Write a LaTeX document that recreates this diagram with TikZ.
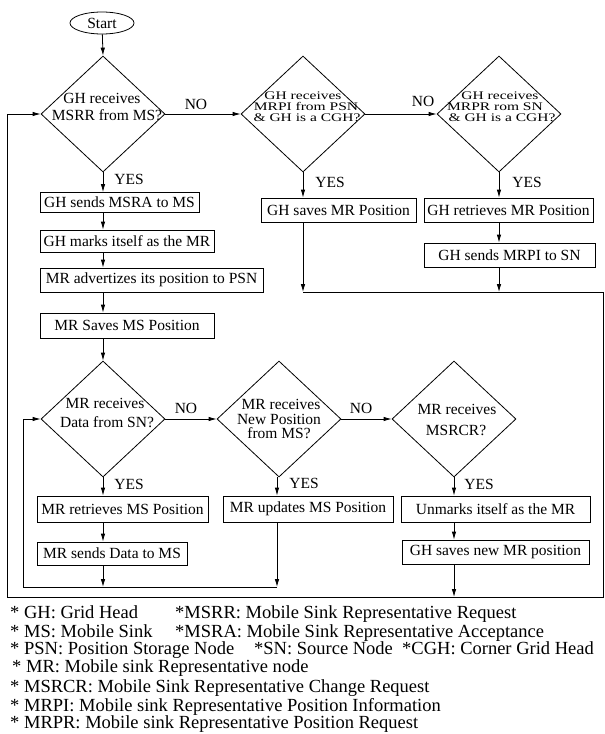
\documentclass[tikz,border=0pt]{standalone}
\usepackage{graphicx}
\usepackage{fontspec}
\setmainfont{Liberation Serif}
\usetikzlibrary{shapes.geometric,arrows.meta}
\newcommand\sqzline[1]{\scalebox{1}[0.75]{#1}}
\tikzset{
  line/.style={line width=0.8pt, black},
  arr/.style={line, -{Latex[length=8pt,width=4.5pt]}},
  box/.style={draw, line width=0.8pt, inner sep=0pt, font=\fontsize{15.5}{16}\selectfont},
  dia/.style={draw, diamond, line width=0.8pt, inner sep=0pt, minimum width=124pt, minimum height=116pt},
  dtext/.style={inner sep=0pt, font=\fontsize{15.5}{16}\selectfont},
  lab/.style={inner sep=0pt, font=\fontsize{15.5}{16}\selectfont},
  leg/.style={inner sep=0pt, anchor=base west, font=\fontsize{18.5}{19}\selectfont}
}
\begin{document}
\begin{tikzpicture}[x=1pt,y=-1pt]
\useasboundingbox (0,0) rectangle (605,734);

% start
\node[draw, ellipse, line width=0.8pt, inner sep=0pt, minimum width=64pt, minimum height=22pt, font=\fontsize{15.5}{16}\selectfont] (start) at (102,23) {Start};

% top row diamonds
\node[dia] (d1) at (103,114) {};
\node[dia] (d2) at (303,114) {};
\node[dia] (d3) at (499,114) {};
\node[dtext] (d1a) at (102,98) {GH receives};
\node[dtext] (d1b) at (107,115) {MSRR from MS?};
\node[dtext] (d2a) at (303,95.5) {\sqzline{GH receives}};
\node[dtext] (d2b) at (306,106.5) {\sqzline{MRPI from PSN}};
\node[dtext] (d2c) at (307,117.5) {\sqzline{\& GH is a CGH?}};
\node[dtext] (d3a) at (500,95.5) {\sqzline{GH receives}};
\node[dtext] (d3b) at (495,106.5) {\sqzline{MRPR rom SN}};
\node[dtext] (d3c) at (502,117.5) {\sqzline{\& GH is a CGH?}};

% left column boxes
\node[box, minimum width=159pt, minimum height=20pt] (b1) at (119.5,202.5) {GH sends MSRA to MS};
\node[box, minimum width=174pt, minimum height=22pt] (b2) at (127,241) {GH marks itself as the MR};
\node[box, minimum width=223pt, minimum height=24pt] (b3) at (151.5,280) {MR advertizes its position to PSN};
\node[box, minimum width=174pt, minimum height=25pt] (b4) at (127,325.5) {MR Saves MS Position};

% top right boxes
\node[box, minimum width=155pt, minimum height=24pt] (b5) at (338.5,210) {GH saves MR Position};
\node[box, minimum width=169pt, minimum height=24pt] (b6) at (508.5,210) {GH retrieves MR Position};
\node[box, minimum width=171pt, minimum height=24pt] (b7) at (509.5,255) {GH sends MRPI to SN};

% second row diamonds
\node[dia] (d4) at (103,419) {};
\node[dia] (d5) at (279,419) {};
\node[dia] (d6) at (454,419) {};
\node[dtext] (d4a) at (105,403) {MR receives};
\node[dtext] (d4b) at (107,422) {Data from SN?};
\node[dtext] (d5a) at (281,404) {MR receives};
\node[dtext] (d5b) at (279,419) {New Position};
\node[dtext] (d5c) at (279,433) {from MS?};
\node[dtext] (d6a) at (457,409) {MR receives};
\node[dtext] (d6b) at (456,430) {MSRCR?};

% bottom boxes
\node[box, minimum width=171pt, minimum height=26pt] (b8) at (122.5,509) {MR retrieves MS Position};
\node[box, minimum width=150pt, minimum height=23pt] (b9) at (112,553.5) {MR sends Data to MS};
\node[box, minimum width=170pt, minimum height=26pt] (b10) at (308,509) {MR updates MS Position};
\node[box, minimum width=189pt, minimum height=26pt] (b11) at (495.5,509) {Unmarks itself as the MR};
\node[box, minimum width=187pt, minimum height=24pt] (b12) at (495.5,552) {GH saves new MR position};

% labels
\node[lab] (no1) at (196,104) {NO};
\node[lab] (no2) at (423,101) {NO};
\node[lab] (no3) at (186,408) {NO};
\node[lab] (no4) at (361,408) {NO};
\node[lab] (yes1) at (129,179) {YES};
\node[lab] (yes2) at (330,182) {YES};
\node[lab] (yes3) at (527,182) {YES};
\node[lab] (yes4) at (129,484) {YES};
\node[lab] (yes5) at (304,483) {YES};
\node[lab] (yes6) at (479,484) {YES};

% junction coordinates
\coordinate (k1) at (303,292);
\coordinate (k2) at (499,292);
\coordinate (rT) at (603,292);
\coordinate (rB) at (603,597);
\coordinate (j3) at (454,597);
\coordinate (oL) at (7,597);
\coordinate (j1) at (103,587);
\coordinate (j2) at (277,587);
\coordinate (iL) at (23,587);

% connectors top
\draw[arr] (start) -- (d1.north);
\draw[arr] (d1.east) -- (d2.west);
\draw[arr] (d2.east) -- (d3.west);
\draw[arr] (d1.south) -- (d1.south |- b1.north);
\draw[arr] (b1.south -| d1.south) -- (b2.north -| d1.south);
\draw[arr] (b2.south -| d1.south) -- (b3.north -| d1.south);
\draw[arr] (b3.south -| d1.south) -- (b4.north -| d1.south);
\draw[arr] (b4.south -| d4.north) -- (d4.north);
\draw[arr] (d2.south) -- (d2.south |- b5.north);
\draw[arr] (d3.south) -- (d3.south |- b6.north);
\draw[arr] (b6.south -| d3.south) -- (b7.north -| d3.south);
\draw[arr] (b5.south -| k1) -- (k1);
\draw[arr] (b7.south -| k2) -- (k2);

% connectors bottom
\draw[arr] (d4.east) -- (d5.west);
\draw[arr] (d5.east) -- (d6.west);
\draw[arr] (d4.south) -- (d4.south |- b8.north);
\draw[arr] (b8.south -| d4.south) -- (b9.north -| d4.south);
\draw[arr] (b9.south -| j1) -- (j1);
\draw[arr] (d5.south -| j2) -- (b10.north -| j2);
\draw[arr] (b10.south -| j2) -- (j2);
\draw[arr] (d6.south) -- (d6.south |- b11.north);
\draw[arr] (b11.south -| d6.south) -- (b12.north -| d6.south);
\draw[arr] (b12.south -| j3) -- (j3);

% loops
\draw[arr] (j2) -- (iL) |- (d4.west);
\draw[arr] (k1) -- (rT) -- (rB) -- (oL) |- (d1.west);

% legend
\node[leg] (l1) at (10,618) {* GH: Grid Head};
\node[leg] (l1b) at (175,618) {*MSRR: Mobile Sink Representative Request};
\node[leg] (l2) at (10,637) {* MS: Mobile Sink};
\node[leg] (l2b) at (175,637) {*MSRA: Mobile Sink Representative Acceptance};
\node[leg] (l3) at (10,654) {* PSN: Position Storage Node};
\node[leg] (l3b) at (254,654) {*SN: Source Node};
\node[leg] (l3c) at (402,654) {*CGH: Corner Grid Head};
\node[leg] (l4) at (12,672) {* MR: Mobile sink Representative node};
\node[leg] (l5) at (10,692) {* MSRCR: Mobile Sink Representative Change Request};
\node[leg] (l6) at (10,711) {* MRPI: Mobile sink Representative Position Information};
\node[leg] (l7) at (10,728) {* MRPR: Mobile sink Representative Position Request};
\end{tikzpicture}
\end{document}
